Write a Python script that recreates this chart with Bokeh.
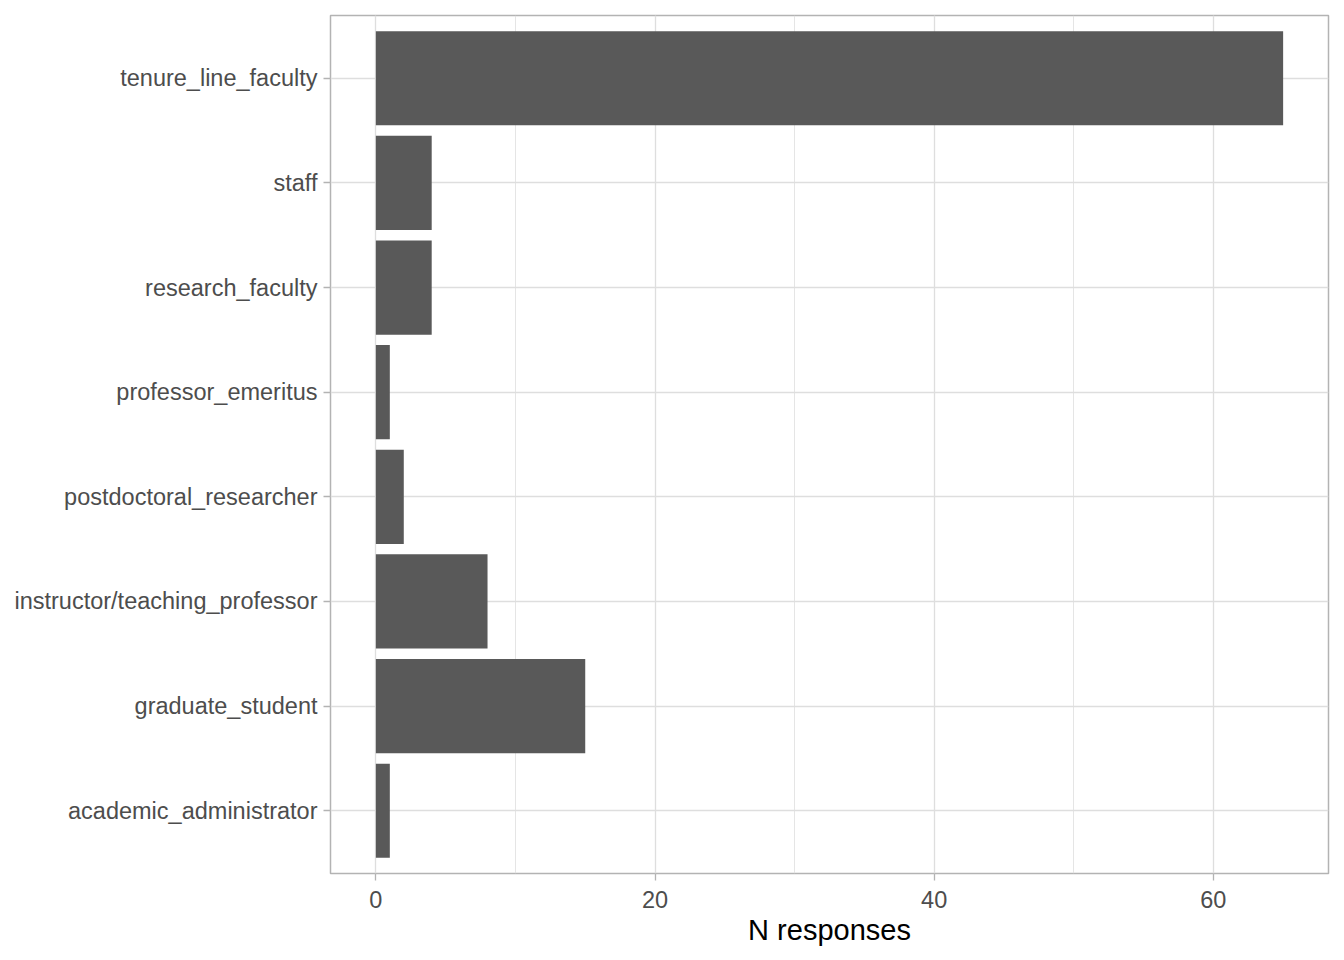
from bokeh.plotting import figure
from bokeh.models import Range1d, FactorRange, SingleIntervalTicker, ColumnDataSource
from bokeh.embed import file_html
from bokeh.resources import INLINE

# data
roles = ['academic_administrator', 'graduate_student', 'instructor/teaching_professor',
         'postdoctoral_researcher', 'professor_emeritus', 'research_faculty',
         'staff', 'tenure_line_faculty']
n_responses = [1, 15, 8, 2, 1, 4, 4, 65]

source = ColumnDataSource(data=dict(role=roles, n=n_responses))

p = figure(width=1330, height=948, output_backend="svg", toolbar_location=None,
           y_range=FactorRange(factors=roles, range_padding=0.1, range_padding_units='absolute'),
           x_range=Range1d(-3.25, 68.25))
p.min_border_left = 330
p.min_border_right = 2
p.min_border_top = 15
p.min_border_bottom = 75

p.hbar(y='role', right='n', left=0, height=0.9, source=source,
       fill_color='#595959', line_color=None)

p.background_fill_color = 'white'
p.outline_line_color = '#B3B3B3'
p.outline_line_width = 1.5

# grid, theme_light style
p.xaxis.ticker = SingleIntervalTicker(interval=20, num_minor_ticks=2)
p.xgrid.grid_line_color = '#DEDEDE'
p.xgrid.grid_line_width = 1.3
p.xgrid.minor_grid_line_color = '#DEDEDE'
p.xgrid.minor_grid_line_width = 0.8
p.ygrid.grid_line_color = '#DEDEDE'
p.ygrid.grid_line_width = 1.3

for ax in (p.xaxis, p.yaxis):
    ax.axis_line_color = None
    ax.major_tick_line_color = '#B3B3B3'
    ax.major_tick_line_width = 1.3
    ax.major_tick_out = 7
    ax.major_tick_in = 0
    ax.minor_tick_line_color = None
    ax.major_label_text_font = 'Liberation Sans'
    ax.major_label_text_font_size = '23.5px'
    ax.major_label_text_color = '#4D4D4D'

p.xaxis.major_label_standoff = 10
p.yaxis.major_label_standoff = 6
p.xaxis.axis_label = 'N responses'
p.xaxis.axis_label_text_font = 'Liberation Sans'
p.xaxis.axis_label_text_font_size = '29px'
p.xaxis.axis_label_text_font_style = 'normal'
p.xaxis.axis_label_text_color = 'black'
p.xaxis.axis_label_standoff = 3

open("out.html", "w").write(file_html(p, INLINE))
